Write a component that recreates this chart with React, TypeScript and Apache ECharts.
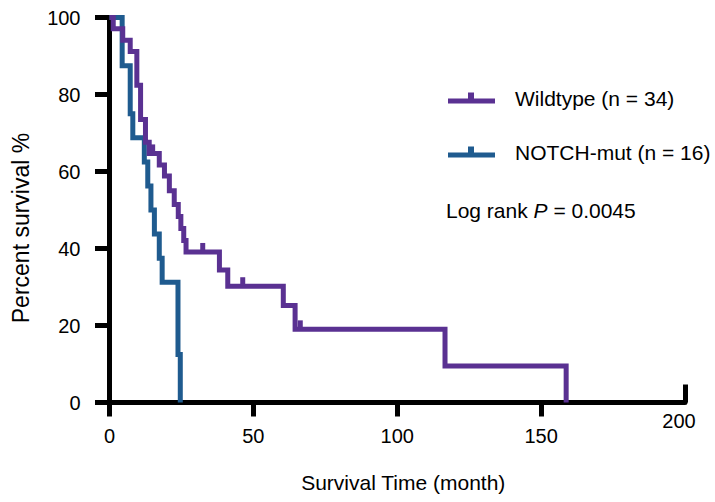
import React, { useEffect, useRef } from "react";
import * as echarts from "echarts";

// Kaplan–Meier step data (time in months, percent survival)
const wildtypeTimes = [0, 1.3, 4.6, 7.2, 9.5, 10.8, 12.5, 13.8, 17.3, 19.1, 20.8, 22.5, 23.9, 24.8, 25.8, 26.6, 38.2, 41.1, 60.4, 64.5, 116.6, 158.7];
const wildtypeSurv = [100, 97.1, 94.1, 91.2, 82.4, 73.5, 67.6, 64.7, 61.7, 58.8, 55.0, 51.4, 48.3, 45.2, 42.1, 39.1, 34.4, 30.2, 25.2, 19.0, 9.5, 0];
const wildtypeCensorTimes = [15.0, 32.4, 46.3, 66.3];
const wildtypeCensorSurv = [64.7, 39.1, 30.2, 19.0];

const notchTimes = [0, 4.4, 7.2, 8.1, 12.1, 13.3, 14.4, 15.6, 17.3, 18.3, 23.8, 24.6];
const notchSurv = [100, 87.5, 75, 68.75, 62.5, 56.25, 50, 43.75, 37.5, 31.25, 12.5, 0];

const seriesNames = ["Wildtype (n = 34)", "NOTCH-mut (n = 16)"];
const xTicks = [0, 50, 100, 150];
const annotation = "Log rank {i|P} = 0.0045";

const PURPLE = "#5a3192";
const BLUE = "#1f5b8f";
const FONT = "Liberation Sans, Arial, Helvetica, sans-serif";

const zip = (a: number[], b: number[]) => a.map((v, i) => [v, b[i]]);

export default function App() {
  const ref = useRef<HTMLDivElement>(null);
  useEffect(() => {
    if (!ref.current) return;
    const chart = echarts.init(ref.current, undefined, { renderer: "svg" });
    const legendIcon =
      "path://M0,6 L47,6 L47,11 L0,11 Z M20,0 L26,0 L26,6 L20,6 Z";
    chart.setOption({
      animation: false,
      backgroundColor: "#fff",
      textStyle: { fontFamily: FONT },
      grid: { left: 109.5, right: 30, top: 17.5, bottom: 99.5, outerBoundsMode: "none" },
      legend: {
        data: seriesNames,
        orient: "vertical",
        left: 443,
        top: 82.5,
        itemWidth: 47,
        itemHeight: 11,
        itemGap: 33,
        icon: legendIcon,
        textStyle: { fontSize: 21, color: "#000", fontFamily: FONT, padding: [0, 0, 0, 15] },
      },
      xAxis: [
        {
          type: "value",
          min: 0,
          max: 200,
          interval: 50,
          axisLine: { show: true, lineStyle: { color: "#000", width: 5 } },
          axisTick: { show: true, length: 14, lineStyle: { color: "#000", width: 5 }, customValues: xTicks },
          axisLabel: { customValues: xTicks, fontSize: 20, color: "#000", margin: 23, fontFamily: FONT },
          splitLine: { show: false },
          name: "Survival Time (month)",
          nameLocation: "middle",
          nameGap: 69,
          nameTextStyle: { fontSize: 21, color: "#000", fontFamily: FONT, padding: [0, 0, 0, 12] },
        },
        {
          type: "value",
          min: 0,
          max: 200,
          interval: 200,
          position: "bottom",
          axisLine: { show: false },
          axisTick: { show: true, inside: true, length: 18, lineStyle: { color: "#000", width: 5 } },
          axisLabel: { showMinLabel: false, fontSize: 20, color: "#000", margin: 8, fontFamily: FONT, padding: [0, 12, 0, 0] },
          splitLine: { show: false },
        },
      ],
      yAxis: {
        type: "value",
        min: 0,
        max: 100,
        interval: 20,
        axisLine: { show: true, lineStyle: { color: "#000", width: 5 } },
        axisTick: { show: true, length: 14.5, lineStyle: { color: "#000", width: 5 } },
        axisLabel: { fontSize: 20, color: "#000", margin: 29, fontFamily: FONT },
        splitLine: { show: false },
        name: "Percent survival %",
        nameLocation: "middle",
        nameGap: 77,
        nameTextStyle: { fontSize: 23, color: "#000", fontFamily: FONT, padding: [0, 36, 0, 0] },
      },
      graphic: [
        {
          type: "text",
          left: 446,
          top: 199.5,
          style: {
            text: annotation,
            fontSize: 21,
            fontFamily: FONT,
            fill: "#000",
            rich: { i: { fontStyle: "italic", fontSize: 21, fontFamily: FONT, fill: "#000" } },
          },
        },
      ],
      series: [
        {
          name: seriesNames[1],
          type: "line",
          step: "end",
          data: zip(notchTimes, notchSurv),
          showSymbol: false,
          color: BLUE,
          itemStyle: { color: BLUE },
          lineStyle: { color: BLUE, width: 5, join: "miter" },
          z: 2,
        },
        {
          name: seriesNames[0],
          type: "line",
          step: "end",
          data: zip(wildtypeTimes, wildtypeSurv),
          showSymbol: false,
          color: PURPLE,
          itemStyle: { color: PURPLE },
          lineStyle: { color: PURPLE, width: 5, join: "miter" },
          z: 3,
        },
        {
          name: "Wildtype censored",
          type: "scatter",
          data: zip(wildtypeCensorTimes, wildtypeCensorSurv),
          symbol: "rect",
          symbolSize: [5, 8],
          symbolOffset: [0, -5],
          itemStyle: { color: PURPLE, opacity: 1 },
          z: 4,
        },
      ],
    });
    return () => chart.dispose();
  }, []);
  return <div ref={ref} style={{ position: "absolute", left: 0, top: 0, width: 715, height: 502 }} />;
}
